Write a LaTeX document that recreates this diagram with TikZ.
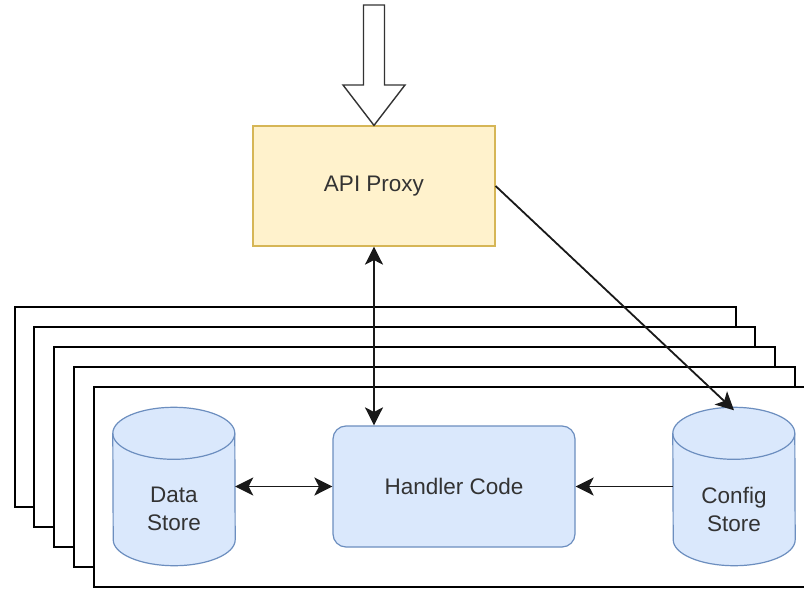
\documentclass[tikz,border=0pt]{standalone}
\usepackage{fontspec}
\setmainfont{Liberation Sans}
\usetikzlibrary{arrows.meta,calc}

\definecolor{proxyfill}{HTML}{FFF2CC}
\definecolor{proxyline}{HTML}{D6B656}
\definecolor{bluefill}{HTML}{DAE8FC}
\definecolor{blueline}{HTML}{6C8EBF}
\definecolor{labeltext}{HTML}{333333}

\tikzset{
  layer/.style={draw=black, fill=white, line width=1.6pt, anchor=north west,
    inner sep=0pt, minimum width=721pt, minimum height=200pt},
  proxybox/.style={draw=proxyline, fill=proxyfill, line width=1.2pt,
    inner sep=0pt, minimum width=242pt, minimum height=120pt},
  handlerbox/.style={draw=blueline, fill=bluefill, line width=1.2pt, rounded corners=13pt,
    inner sep=0pt, minimum width=242pt, minimum height=121pt},
  storebox/.style={inner sep=0pt, minimum width=122pt, minimum height=158pt},
  cylbody/.style={draw=blueline, fill=bluefill, line width=1.2pt},
  label/.style={text=labeltext, font=\fontsize{22.5}{28}\selectfont, align=center},
  conn/.style={draw=black!90, line width=1.8pt},
  head/.tip={Stealth[length=18pt,width=18pt,inset=4.5pt]},
  hollow/.style={draw=black!80, fill=white, line width=1.4pt, line join=miter},
}

\begin{document}
\begin{tikzpicture}[x=1pt,y=-1pt]
  \useasboundingbox (0,0) rectangle (804,589);

  % stack of handler instances, back to front
  \node[layer] (l1) at (14,306) {};
  \node[layer] (l2) at (33,326) {};
  \node[layer] (l3) at (53,346) {};
  \node[layer] (l4) at (73,366) {};
  \node[layer] (l5) at (93,386) {};

  % proxy and handler
  \node[proxybox] (api) at (374,186) {};
  \node[label] at (api.center) {API Proxy};
  \node[handlerbox] (handler) at (454,486.5) {};
  \node[label] at (handler.center) {Handler Code};

  % stores (cylinders drawn around invisible nodes)
  \node[storebox] (data) at (174,486.5) {};
  \node[storebox] (config) at (734,486.5) {};
  \foreach \s in {data,config}{
    \path[cylbody] ([yshift=-26pt]\s.north west)
      arc[start angle=180, end angle=0, x radius=61pt, y radius=26pt]
      -- ([yshift=26pt]\s.south east)
      arc[start angle=0, end angle=-180, x radius=61pt, y radius=26pt]
      -- cycle;
    \draw[cylbody, fill=none] ([yshift=-26pt]\s.north west)
      arc[start angle=180, end angle=360, x radius=61pt, y radius=26pt];
  }
  \node[label] at (174,509) {Data\\Store};
  \node[label] at (734,509) {Config\\Store};

  % incoming request (block arrow)
  \coordinate (req) at (374,5);
  \path[hollow] ([xshift=-10.5pt]req) -- ([xshift=10.5pt]req)
    -- ([xshift=10.5pt]req |- 0,85) -- ([xshift=31pt]req |- 0,85)
    -- (api.north) -- ([xshift=-31pt]req |- 0,85)
    -- ([xshift=-10.5pt]req |- 0,85) -- cycle;

  % connectors
  \draw[conn, head-head] (api.south) -- (handler.north -| api.south);
  \draw[conn, head-head] (data.east |- handler.west) -- (handler.west);
  \draw[conn, -head] (config.west |- handler.east) -- (handler.east);
  \draw[conn, -head] (api.east) -- ([yshift=-3pt]config.north);
\end{tikzpicture}
\end{document}
